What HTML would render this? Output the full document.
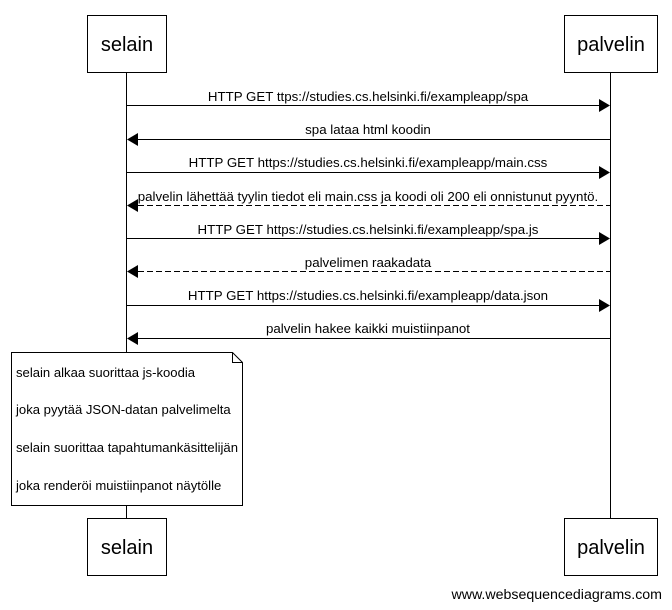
<!DOCTYPE html>
<html><head><meta charset="utf-8"><style>
body{margin:0;background:#fff}
svg{display:block;font-family:"Liberation Sans",sans-serif}
</style></head><body>
<svg width="672" height="610" viewBox="0 0 672 610" xmlns="http://www.w3.org/2000/svg">
<g stroke="#000" stroke-width="1" fill="none">
<line x1="126.5" y1="72" x2="126.5" y2="518"/>
<line x1="610.5" y1="72" x2="610.5" y2="518"/>
<rect x="87.5" y="15.5" width="79" height="57" fill="#fff"/>
<rect x="564.5" y="15.5" width="93" height="57" fill="#fff"/>
<rect x="87.5" y="518.5" width="79" height="57" fill="#fff"/>
<rect x="564.5" y="518.5" width="93" height="57" fill="#fff"/>
<line x1="126" y1="105.5" x2="600" y2="105.5"/>
<line x1="138" y1="139.5" x2="610" y2="139.5"/>
<line x1="126" y1="172.5" x2="600" y2="172.5"/>
<line x1="138" y1="205.5" x2="610" y2="205.5" stroke-dasharray="6,3"/>
<line x1="126" y1="238.5" x2="600" y2="238.5"/>
<line x1="138" y1="271.5" x2="610" y2="271.5" stroke-dasharray="6,3"/>
<line x1="126" y1="305.5" x2="600" y2="305.5"/>
<line x1="138" y1="338.5" x2="610" y2="338.5"/>
<path d="M11.5 352.5 H232.5 L242.5 362.5 V505.5 H11.5 Z" fill="#fff"/>
<path d="M232.5 352.5 V362.5 H242.5"/>
</g>
<g fill="#000">
<path d="M610 105.5 L599 99 L599 112 Z"/>
<path d="M127 139.5 L138 133 L138 146 Z"/>
<path d="M610 172.5 L599 166 L599 179 Z"/>
<path d="M127 205.5 L138 199 L138 212 Z"/>
<path d="M610 238.5 L599 232 L599 245 Z"/>
<path d="M127 271.5 L138 265 L138 278 Z"/>
<path d="M610 305.5 L599 299 L599 312 Z"/>
<path d="M127 338.5 L138 332 L138 345 Z"/>
</g>
<g font-size="20" text-anchor="middle">
<text x="127" y="51">selain</text>
<text x="611" y="51">palvelin</text>
<text x="127" y="554">selain</text>
<text x="611" y="554">palvelin</text>
</g>
<g font-size="13.3" text-anchor="middle">
<text x="368" y="101">HTTP GET ttps://studies.cs.helsinki.fi/exampleapp/spa</text>
<text x="368" y="134">spa lataa html koodin</text>
<text x="368" y="167">HTTP GET https://studies.cs.helsinki.fi/exampleapp/main.css</text>
<text x="368" y="201">palvelin lähettää tyylin tiedot eli main.css ja koodi oli 200 eli onnistunut pyyntö.</text>
<text x="368" y="234">HTTP GET https://studies.cs.helsinki.fi/exampleapp/spa.js</text>
<text x="368" y="267">palvelimen raakadata</text>
<text x="368" y="300">HTTP GET https://studies.cs.helsinki.fi/exampleapp/data.json</text>
<text x="368" y="333">palvelin hakee kaikki muistiinpanot</text>
</g>
<g font-size="13.1">
<text x="16" y="377">selain alkaa suorittaa js-koodia</text>
<text x="16" y="414">joka pyytää JSON-datan palvelimelta</text>
<text x="16" y="452">selain suorittaa tapahtumankäsittelijän</text>
<text x="16" y="490">joka renderöi muistiinpanot näytölle</text>
<text x="662" y="599" text-anchor="end" font-size="14.2">www.websequencediagrams.com</text>
</g>
</svg>
</body></html>
